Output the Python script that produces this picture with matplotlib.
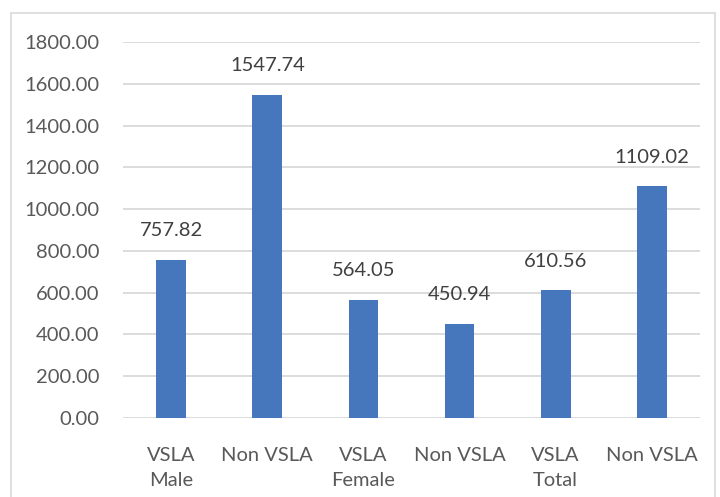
import matplotlib
matplotlib.use("Agg")
import matplotlib.pyplot as plt
from matplotlib.patches import Rectangle

categories = ["VSLA\nMale", "Non VSLA", "VSLA\nFemale", "Non VSLA", "VSLA\nTotal", "Non VSLA"]
values = [757.82, 1547.74, 564.05, 450.94, 610.56, 1109.02]
yticks = [0, 200, 400, 600, 800, 1000, 1200, 1400, 1600, 1800]

plt.rcParams['font.family'] = ['Lato', 'DejaVu Sans']

fig = plt.figure(figsize=(7.2, 4.97), dpi=100)
ax = fig.add_axes([0.171, 0.159, 0.801, 0.7565])

x = list(range(len(values)))
bars = ax.bar(x, values, width=0.31, color="#4677BD", zorder=3)

ax.set_xlim(-0.5, len(values) - 0.5)
ax.set_ylim(0, 1800)
ax.set_yticks(yticks)
ax.set_yticklabels([f"{v:.2f}" for v in yticks])
ax.set_xticks(x)
ax.set_xticklabels(categories, linespacing=1.55)

ax.grid(axis='y', color="#d9d9d9", linewidth=1.3, zorder=0)
for s in ax.spines.values():
    s.set_visible(False)
ax.tick_params(axis='both', length=0, labelsize=14.5, labelcolor="#595959")
ax.tick_params(axis='y', pad=17)
ax.tick_params(axis='x', pad=21)

for xi, v in zip(x, values):
    ax.annotate(f"{v:.2f}", xy=(xi, v), xytext=(0, 21), textcoords='offset points',
                ha='center', va='center', fontsize=14.5, color="#404040")

fig.patches.append(Rectangle((11/720, -0.05), (715-11)/720, 1 - 13/497 + 0.05,
                             transform=fig.transFigure, fill=False,
                             edgecolor="#d9d9d9", linewidth=1.2))

fig.savefig("out.png", dpi=100, facecolor="white")
